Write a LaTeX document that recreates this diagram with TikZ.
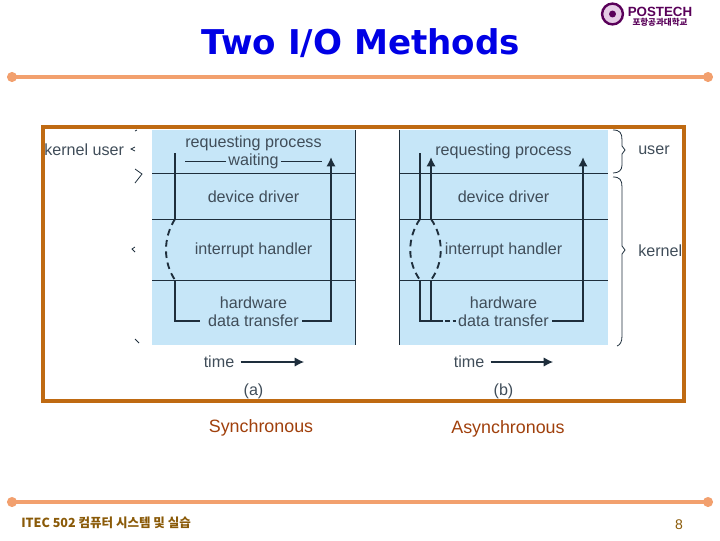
\documentclass[tikz,border=0pt]{standalone}
\usepackage[svgnames]{xcolor}
\usepackage{fontspec}
\setmainfont{Liberation Sans}
\newfontfamily\titlefont{DejaVu Sans}
\newfontfamily\cjk{Noto Sans CJK KR}
\usepackage{tikz}
\usetikzlibrary{arrows.meta}

\definecolor{panelblue}{HTML}{C6E6F8}
\definecolor{framebrown}{HTML}{BF6A12}
\definecolor{rulesalmon}{HTML}{F2A06E}
\definecolor{inkdark}{HTML}{1E2E3C}
\definecolor{footbrown}{HTML}{8A5A08}
\definecolor{capred}{HTML}{A0400C}

\begin{document}
\begin{tikzpicture}[
  x=0.75pt,y=-0.75pt,
  inner sep=0pt,
  lab/.style={text=inkdark!85!white,font=\fontsize{12.1}{13}\selectfont},
  sep/.style={draw=inkdark,line width=0.6pt},
  flow/.style={draw=inkdark,line width=1.4pt},
  flowtip/.style={flow,-{Latex[length=7pt,width=7pt]}},
  intr/.style={flow,dash pattern=on 5pt off 3.5pt},
  thin flow/.style={draw=inkdark,line width=0.9pt},
  brace/.style={draw=inkdark,line width=0.6pt},
  cap text/.style={text=capred,font=\fontsize{13.4}{14}\selectfont}
  ]

\useasboundingbox (0,0) rectangle (720,540);

% title and rules
\node[text=blue!90!black,font=\titlefont\bfseries\fontsize{25.6}{28}\selectfont] (title) at (361,43) {Two I/O Methods};

\fill[rulesalmon] (12,77) circle (3.8pt) (708,77) circle (3.8pt);
\fill[rulesalmon] (12,502) circle (3.8pt) (708,502) circle (3.8pt);
\draw[rulesalmon,line width=2.6pt] (12,77) -- (708,77);
\draw[rulesalmon,line width=2.6pt] (12,502) -- (708,502);

% logo
\filldraw[draw=Purple!70!black,fill=Purple!20!white,line width=1.8pt] (612.5,14) circle (7.8pt);
\fill[Purple!70!black] (612.5,14) circle (2.6pt);
\node[text=Purple!70!black,font=\bfseries\fontsize{10}{11}\selectfont] (logo) at (660,11.5) {POSTECH};
\node[text=Purple!70!black,font=\cjk\bfseries\fontsize{6.4}{7}\selectfont] (logokr) at (660,22.5) {포항공과대학교};

% panels
\fill[panelblue] (152,130) rectangle (355,345);
\fill[panelblue] (399,130) rectangle (608,345);

\draw[sep] (152,173) -- (355,173);
\draw[sep] (152,219) -- (355,219);
\draw[sep] (152,280) -- (355,280);
\draw[sep] (355,130) -- (355,345);

\draw[sep] (399,173) -- (608,173);
\draw[sep] (399,219) -- (608,219);
\draw[sep] (399,280) -- (608,280);
\draw[sep] (399,130) -- (399,345);

% left panel
\node[lab] (reqa) at (253.5,143) {requesting process};
\node[lab] (waita) at (253.5,161.5) {waiting};
\node[lab] (drva) at (253.5,196.5) {device driver};
\node[lab] (inta) at (253.5,250.5) {interrupt handler};
\node[lab] (hwa) at (253.5,303) {hardware};
\node[lab] (xfera) at (253.5,321) {data transfer};
\node[lab] (timea) at (219,362) {time};
\node[lab] (capa) at (253.5,391) {(a)};

\coordinate (starta) at (175,153);
\coordinate (uppera) at (175,219);
\coordinate (lowera) at (175,280);
\coordinate (cornera) at (175,321);
\coordinate (risea) at (331,321);
\coordinate (enda) at (331,157);

\draw[flow] (starta) -- (uppera);
\draw[intr] (uppera) .. controls (163,238) and (163,262) .. (lowera);
\draw[flow] (lowera) -- (cornera) -- (200,321);
\draw[flowtip] (302,321) -- (risea) -- (enda);
\draw[thin flow] (waita.west) ++(-2,0) -- (185,161.5);
\draw[thin flow] (waita.east) ++(2,0) -- (322,161.5);
\draw[flowtip,line width=0.9pt] (timea.east) ++(6,0) -- (304,362);

% right panel
\node[lab] (reqb) at (503.5,151.5) {requesting process};
\node[lab] (drvb) at (503.5,196.5) {device driver};
\node[lab] (intb) at (503.5,250.5) {interrupt handler};
\node[lab] (hwb) at (503.5,303) {hardware};
\node[lab] (xferb) at (503.5,321) {data transfer};
\node[lab] (timeb) at (469,362) {time};
\node[lab] (capb) at (503.5,391) {(b)};

\coordinate (startb) at (420,153);
\coordinate (upperl) at (420,219);
\coordinate (upperr) at (431,219);
\coordinate (lowerl) at (420,280);
\coordinate (lowerr) at (431,280);
\coordinate (cornerl) at (420,321);
\coordinate (cornerr) at (431,321);
\coordinate (endl) at (431,157);
\coordinate (riseb) at (583,321);
\coordinate (endb) at (583,157);

\draw[flow] (startb) -- (upperl);
\draw[flowtip] (upperr) -- (endl);
\draw[intr] (upperl) .. controls (407,238) and (407,262) .. (lowerl);
\draw[intr] (upperr) .. controls (444,238) and (444,262) .. (lowerr);
\draw[flow] (lowerl) -- (cornerl) -- (cornerr) -- (lowerr);
\draw[flow] (cornerr) -- (438,321);
\draw[flow,dash pattern=on 3.5pt off 2pt] (438,321) -- (456,321);
\draw[flowtip] (552,321) -- (riseb) -- (endb);
\draw[flowtip,line width=0.9pt] (timeb.east) ++(6,0) -- (553,362);

% braces
\draw[brace] (613,130) .. controls (620,130) and (622,133) .. (622,140)
-- (622,146) -- (625,150) -- (622,154) -- (622,165) .. controls (622,170) and (619,173) .. (613,173);
\draw[brace] (613,177) .. controls (620,177) and (622,180) .. (622,187)
-- (622,246) -- (625,250) -- (622,254) -- (622,336) .. controls (622,342) and (620,345) .. (617,346);
\node[lab,anchor=west] (userb) at (638,150) {user};
\node[lab,anchor=west] (kernelb) at (638,250.5) {kernel};

% what is left of the other brace
\draw[brace] (135,131) -- (137,130);
\draw[brace] (135,147) -- (131,149) -- (135,151);
\draw[brace] (135,169) -- (142,174) -- (135,183);
\draw[brace] (135,247) -- (132,249) -- (135,252);
\draw[brace] (135,339) -- (139,343);

% frame
\draw[framebrown,line width=2.4pt] (43,127) rectangle (684,401);
\node[lab,anchor=west] (sidelabel) at (44,150) {kernel user};

% captions and footer
\node[cap text] (sync) at (261,427.5) {Synchronous};
\node[cap text] (async) at (508,428.5) {Asynchronous};
\node[anchor=west,text=footbrown,font=\cjk\bfseries\fontsize{9.4}{10}\selectfont] (foot) at (21,523) {ITEC 502 컴퓨터 시스템 및 실습};
\node[text=footbrown,font=\fontsize{10.5}{12}\selectfont] (page) at (679,525) {8};

\end{tikzpicture}
\end{document}
